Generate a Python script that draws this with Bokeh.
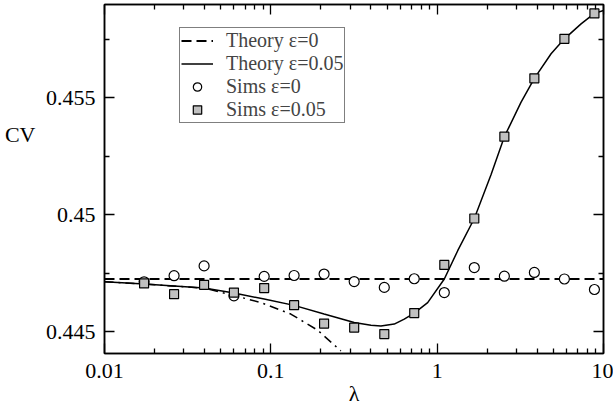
from bokeh.plotting import figure
from bokeh.models import Range1d, FixedTicker, LinearAxis, LogAxis, Legend, LegendItem
from bokeh.embed import file_html
from bokeh.resources import INLINE

# ---- data ----
lam_sims = [0.0173, 0.0262, 0.0397, 0.060, 0.0912, 0.138, 0.209, 0.317,
            0.481, 0.728, 1.104, 1.672, 2.535, 3.84, 5.82, 8.82]
cv_sims_eps0 = [0.44713, 0.44739, 0.44781, 0.44653, 0.44736, 0.44740, 0.44746, 0.44714,
                0.44689, 0.44726, 0.44667, 0.44774, 0.44737, 0.44753, 0.44725, 0.44680]
cv_sims_eps005 = [0.44706, 0.44660, 0.44700, 0.44667, 0.44686, 0.44613, 0.44534, 0.44517,
                  0.44489, 0.44579, 0.44785, 0.44984, 0.45334, 0.45584, 0.45753, 0.45862]

lam_theory_eps0 = [0.01, 10.0]
cv_theory_eps0 = [0.44725, 0.44725]

lam_theory_eps005 = [0.01, 0.0173, 0.0397, 0.060, 0.0912, 0.138, 0.209, 0.317, 0.40, 0.459,
                     0.552, 0.634, 0.728, 0.877, 1.104, 1.329, 1.672, 2.107, 2.535, 3.19, 3.84,
                     4.84, 5.82, 7.33, 8.82, 10.0]
cv_theory_eps005 = [0.44713, 0.44703, 0.44686, 0.44665, 0.44639, 0.44612, 0.44575, 0.44539, 0.44527, 0.44524,
                    0.44532, 0.44553, 0.44579, 0.44624, 0.44725, 0.44846, 0.44984, 0.45171, 0.45334, 0.45481, 0.45584,
                    0.45689, 0.45753, 0.45817, 0.45862, 0.45874]

lam_small = [0.01, 0.0173, 0.0397, 0.0574, 0.0871, 0.1318, 0.191, 0.2637]
cv_small = [0.44713, 0.44703, 0.44686, 0.44658, 0.44624, 0.44575, 0.44506, 0.44417]

x_major = [0.01, 0.1, 1, 10]
x_labels = ["0.01", "0.1", "1", "10"]
x_minor = [m * 10.0 ** e for e in (-2, -1, 0) for m in range(2, 10)]
y_major = [0.445, 0.45, 0.455]
y_labels = ["0.445", "0.45", "0.455"]
y_minor = [0.4475, 0.4525, 0.4575]

FONT = "Liberation Serif"

p = figure(x_axis_type="log", x_range=Range1d(0.01, 10), y_range=Range1d(0.44406, 0.459),
           frame_width=499, frame_height=349,
           min_border_left=104, min_border_right=10, min_border_top=4, min_border_bottom=56,
           output_backend="svg", toolbar_location=None,
           background_fill_color="white", border_fill_color="white")
p.grid.visible = False
p.outline_line_color = "black"
p.outline_line_width = 1.5


def style(ax, labels):
    ax.axis_line_color = "black"
    ax.axis_line_width = 1.5
    ax.major_tick_in = 10
    ax.major_tick_out = 0
    ax.minor_tick_in = 5
    ax.minor_tick_out = 0
    ax.major_tick_line_width = 1.3
    ax.minor_tick_line_width = 1.3
    ax.major_tick_line_color = "black"
    ax.minor_tick_line_color = "black"
    if labels:
        ax.major_label_text_font = FONT
        ax.major_label_text_font_size = "22px"
        ax.major_label_text_color = "black"
    else:
        ax.major_label_text_font_size = "1px"
        ax.major_label_text_alpha = 0
        ax.major_label_standoff = 0


xb = p.xaxis[0]
xb.ticker = FixedTicker(ticks=x_major, minor_ticks=x_minor)
xb.major_label_overrides = dict(zip(x_major, x_labels))
style(xb, True)
xb.major_label_standoff = 10
xb.axis_label = "λ"
xb.axis_label_text_font = FONT
xb.axis_label_text_font_size = "22px"
xb.axis_label_text_font_style = "normal"
xb.axis_label_text_color = "black"
xb.axis_label_standoff = 0

yl = p.yaxis[0]
yl.ticker = FixedTicker(ticks=y_major, minor_ticks=y_minor)
yl.major_label_overrides = dict(zip(y_major, y_labels))
style(yl, True)
yl.major_label_standoff = 9

# extra left axis carrying only the horizontal "CV" label; blank lines lift it above centre
ycv = LinearAxis(ticker=FixedTicker(ticks=[]),
                 axis_label="CV\n \n \n ", axis_label_orientation="horizontal",
                 axis_label_text_font=FONT, axis_label_text_font_size="22px",
                 axis_label_text_font_style="normal", axis_label_text_color="black",
                 axis_label_text_line_height=1.18,
                 axis_label_standoff=7, axis_line_alpha=0,
                 major_label_text_font_size="1px", major_label_text_alpha=0,
                 major_tick_in=0, major_tick_out=0, minor_tick_in=0, minor_tick_out=0)
p.add_layout(ycv, "left")

xtop = LogAxis(ticker=FixedTicker(ticks=x_major, minor_ticks=x_minor))
style(xtop, False)
p.add_layout(xtop, "above")
yright = LinearAxis(ticker=FixedTicker(ticks=y_major, minor_ticks=y_minor))
style(yright, False)
p.add_layout(yright, "right")

r_dash = p.line(lam_theory_eps0, cv_theory_eps0, line_color="black", line_width=1.8, line_dash="10 5")
r_solid = p.line(lam_theory_eps005, cv_theory_eps005, line_color="black", line_width=1.5)
p.line(lam_small, cv_small, line_color="black", line_width=1.5, line_dash="9 5 2 5")
r_circ = p.scatter(lam_sims, cv_sims_eps0, marker="circle", size=10, fill_color="white",
                   line_color="black", line_width=1.2)
r_sq = p.scatter(lam_sims, cv_sims_eps005, marker="square", size=9, fill_color="#c0c0c0",
                 line_color="black", line_width=1.2)

legend = Legend(items=[LegendItem(label="Theory ε=0", renderers=[r_dash]),
                       LegendItem(label="Theory ε=0.05", renderers=[r_solid]),
                       LegendItem(label="Sims ε=0", renderers=[r_circ]),
                       LegendItem(label="Sims ε=0.05", renderers=[r_sq])],
                location=(75, 230),
                label_text_font=FONT, label_text_font_size="20px",
                glyph_width=32, glyph_height=21, label_height=21,
                label_standoff=13, padding=1, spacing=0, margin=0,
                border_line_color="black", border_line_width=1.2,
                background_fill_color="white", background_fill_alpha=1)
p.add_layout(legend)

open("out.html", "w").write(file_html(p, INLINE))
